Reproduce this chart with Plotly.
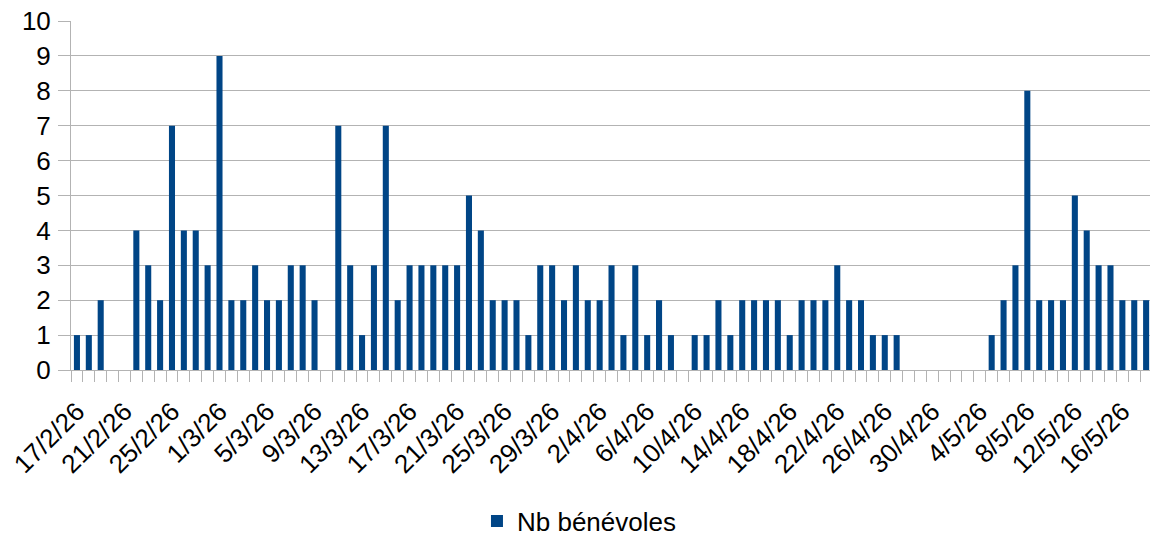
import pandas as pd
import plotly.graph_objects as go

# Categories: one per day from 17/2/26 to 19/5/26
dates = pd.date_range("2026-02-17", "2026-05-19", freq="D")
categories = [f"{d.day}/{d.month}/{d.strftime('%y')}" for d in dates]

# Series values (Nb bénévoles)
feb = [1, 1, 2, 0, 0, 4, 3, 2, 7, 4, 4, 3]
mar = [9, 2, 2, 3, 2, 2, 3, 3, 2, 0,
       7, 3, 1, 3, 7, 2, 3, 3, 3, 3,
       3, 5, 4, 2, 2, 2, 1, 3, 3, 2, 3]
apr = [2, 2, 3, 1, 3, 1, 2, 1, 0, 1,
       1, 2, 1, 2, 2, 2, 2, 1, 2, 2,
       2, 3, 2, 2, 1, 1, 1, 0, 0, 0]
may = [0, 0, 0, 0, 1, 2, 3, 8, 2, 2, 2, 5, 4, 3, 3, 2, 2, 2, 2]
values = feb + mar + apr + may

series_name = "Nb bénévoles"
label_step = 4
tick_labels = [c if i % label_step == 0 else "" for i, c in enumerate(categories)]
y_ticks = list(range(0, 11))

FONT = "Liberation Sans, Arial, sans-serif"
BAR = "#004586"
GRID = "#b3b3b3"
FS = 26

fig = go.Figure()
fig.add_trace(go.Bar(
    x=categories, y=values, name=series_name,
    marker=dict(color=BAR, line=dict(width=0)),
    showlegend=True,
))

# page body has an 8px margin: figure is 1150x529 placed at (8, 8)
fig.update_layout(
    width=1150, height=529,
    margin=dict(l=63, r=0, t=13, b=167, autoexpand=False),
    paper_bgcolor="white", plot_bgcolor="white",
    bargap=0.49,
    font=dict(family=FONT, size=FS, color="#000000"),
    showlegend=True,
    legend=dict(
        orientation="h", xref="container", yref="container",
        x=0.4965, xanchor="center", y=0.03, yanchor="middle",
        font=dict(family=FONT, size=FS, color="#000000"),
        bgcolor="rgba(0,0,0,0)",
    ),
)

fig.update_xaxes(
    type="category",
    range=[-0.5, len(categories) - 1],
    tickmode="array", tickvals=categories, ticktext=tick_labels,
    tickson="boundaries",
    tickangle=-45,
    ticks="outside", ticklen=11, tickcolor=GRID, tickwidth=1,
    showline=True, linecolor=GRID, linewidth=1,
    showgrid=False, zeroline=False,
    ticklabelstandoff=15,
    tickfont=dict(family=FONT, size=FS, color="#000000"),
)

fig.update_yaxes(
    range=[0, 10], tickmode="array", tickvals=y_ticks,
    ticktext=[str(v) for v in y_ticks],
    ticks="outside", ticklen=12, tickcolor=GRID, tickwidth=1,
    showline=True, linecolor=GRID, linewidth=1,
    showgrid=True, gridcolor=GRID, gridwidth=1,
    zeroline=False,
    ticklabelstandoff=2,
    ticklabeloverflow="allow",
    tickfont=dict(family=FONT, size=FS, color="#000000"),
)

fig.write_html("out.html")
